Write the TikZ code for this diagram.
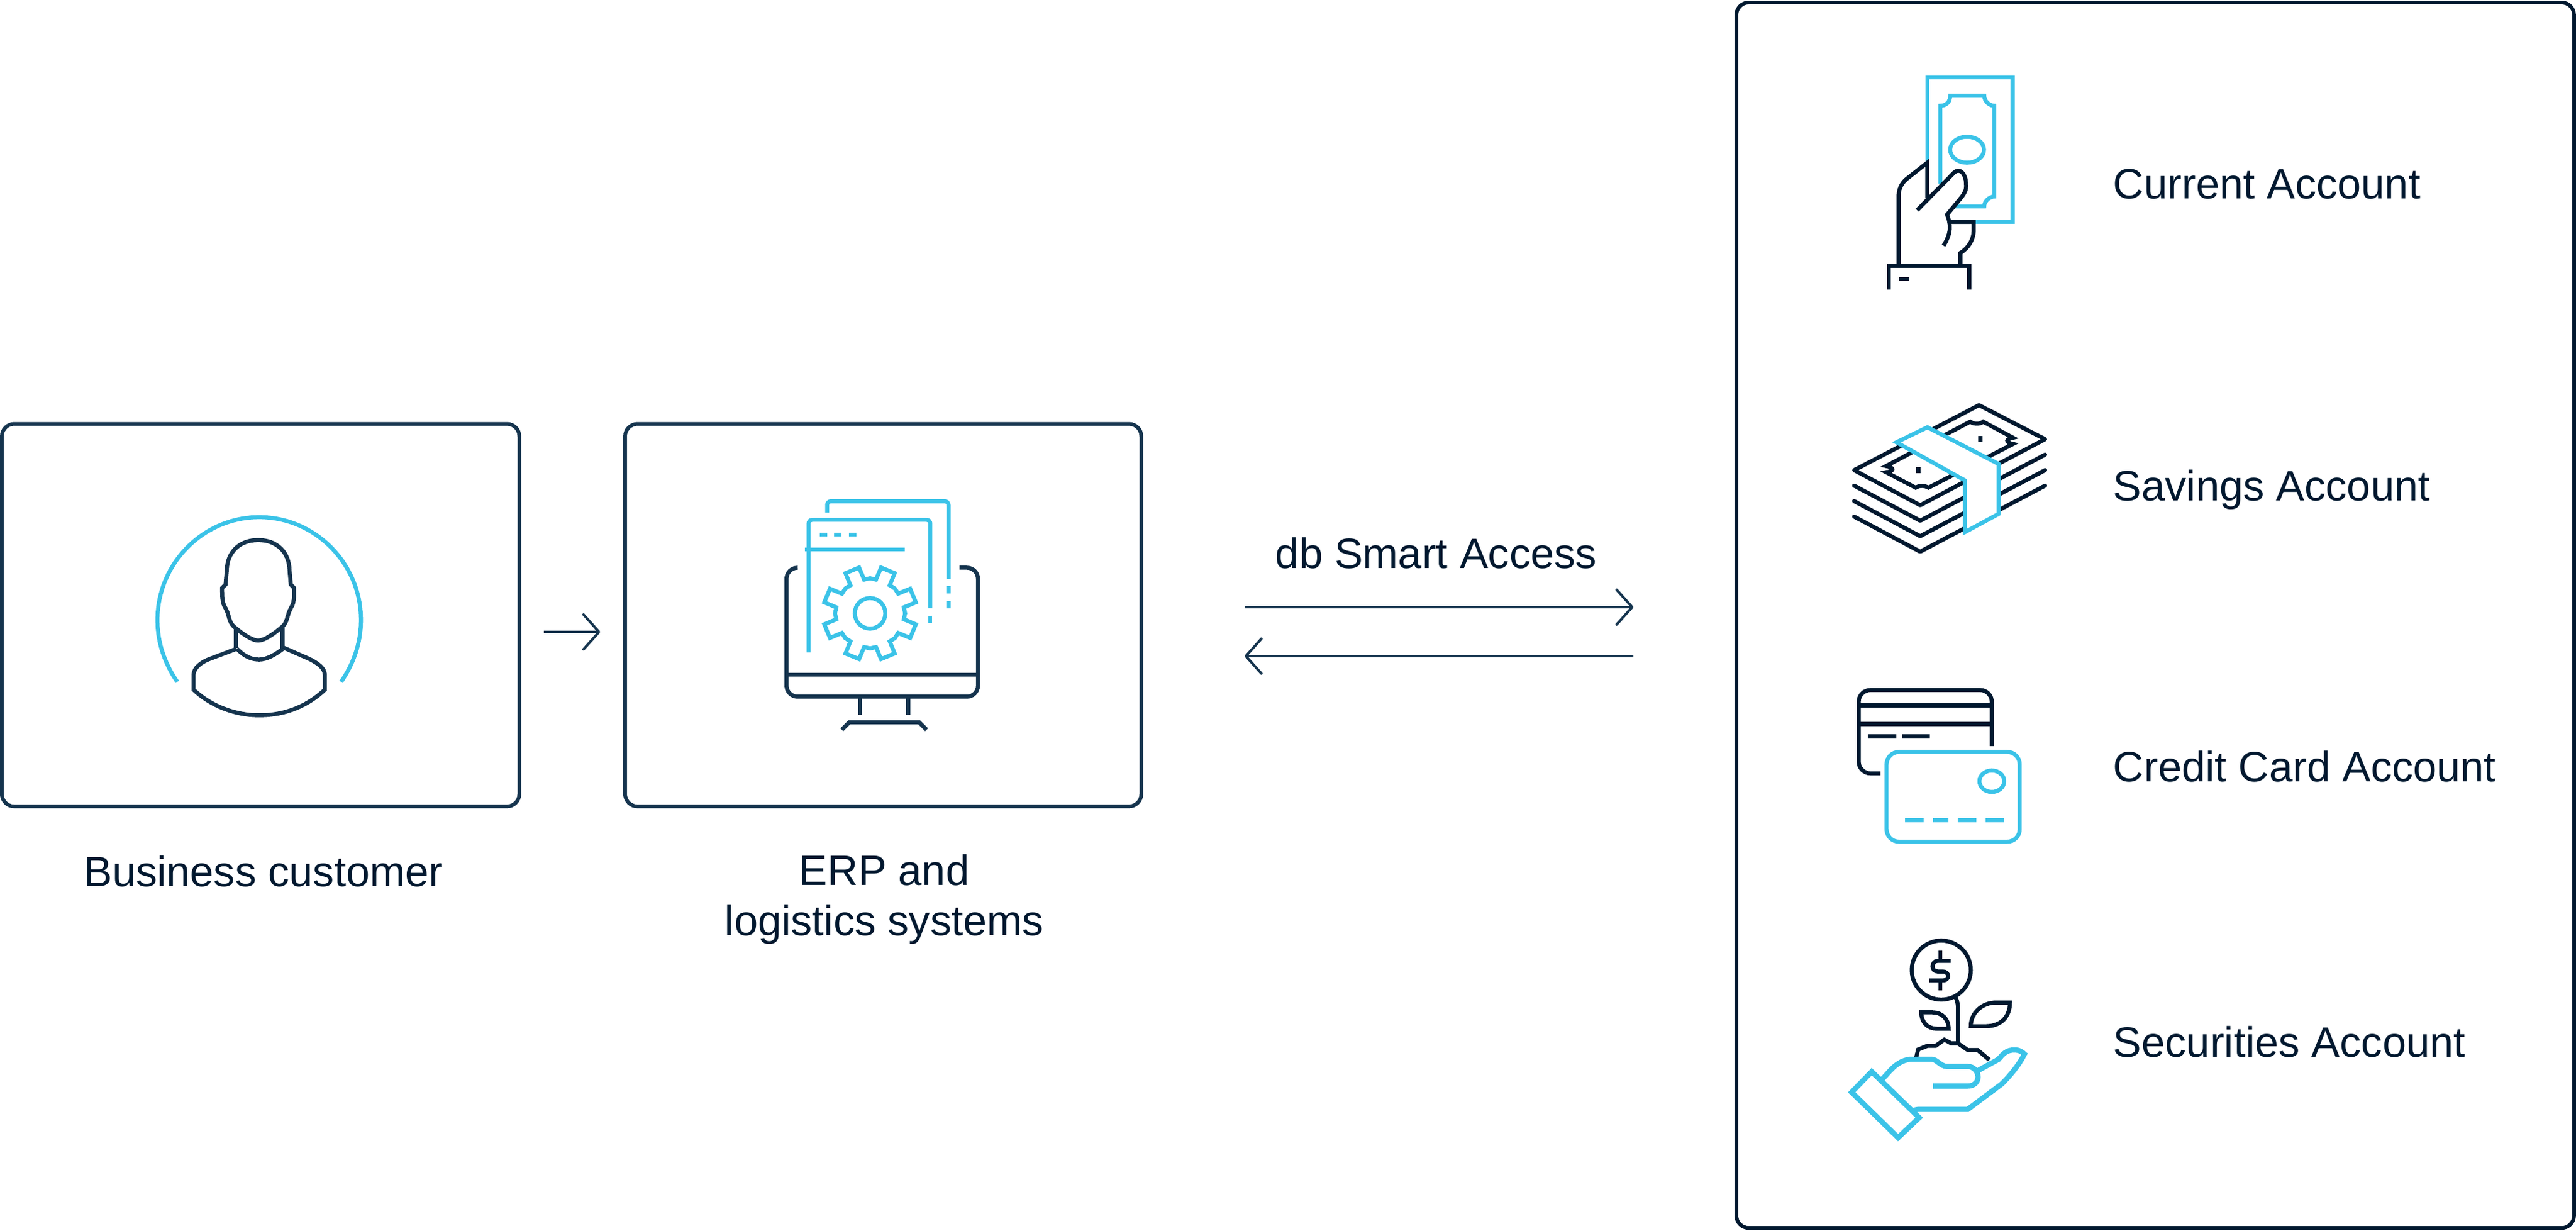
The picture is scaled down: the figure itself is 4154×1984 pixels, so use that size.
\documentclass[tikz,border=0pt]{standalone}
\usepackage{fontspec}
\setmainfont{Liberation Sans}
\usetikzlibrary{positioning,%
  arrows.meta,%
  calc
}
\definecolor{inkblue}{HTML}{15344E}
\definecolor{navy}{HTML}{01182F}
\definecolor{skyblue}{HTML}{3BC3E8}
\tikzset{
  panel/.style={draw=inkblue,line width=1.7pt,rounded corners=0.2cm,inner sep=0pt,outer sep=0pt,anchor=north west},
  caption/.style={text=navy,font=\fontsize{19.5}{23}\selectfont,align=center,inner sep=0pt},
  link/.style={draw=inkblue,line width=1.15pt,-{Straight Barb[length=0.25cm,width=0.56cm,round]}},
  zoomed/.style={x=0.0033333cm,y=-0.0033333cm,line width=1.85pt},
  darkline/.style={draw=inkblue},
  navyline/.style={draw=navy},
  skyline/.style={draw=skyblue}
}
\begin{document}
\begin{tikzpicture}[x=0.01cm,y=-0.01cm]
  \useasboundingbox (0,0) rectangle (4154,1984);

  % panels
  \node[panel,minimum width=8.34cm,minimum height=6.165cm] (customer) at (3,683.5) {};
  \node[panel,minimum width=8.32cm,minimum height=6.165cm] (erp) at (1008,683.5) {};
  \node[panel,draw=navy,minimum width=13.5cm,minimum height=19.75cm] (products) at (2800,4) {};

  % captions
  \node[caption] (customer text) at (425,1405) {Business customer};
  \node[caption] (erp text) at (1426,1450) {ERP and\\logistics systems};
  \node[caption] (access text) at (2316,892) {db Smart Access};
  \node[caption,anchor=west] (current text) at (3407,297) {Current Account};
  \node[caption,anchor=west] (savings text) at (3407,790) {Savings Account};
  \node[caption,anchor=west] (card text) at (3407,1236) {Credit Card Account};
  \node[caption,anchor=west] (securities text) at (3407,1680) {Securities Account};

  % arrows
  \coordinate (step from) at (877,1019);
  \coordinate (step to) at (968,1019);
  \coordinate (out from) at (2007,979);
  \coordinate (out to) at (2634,979);
  \coordinate (back from) at (2634,1058);
  \coordinate (back to) at (2007,1058);
  \draw[link] (step from) -- (step to);
  \draw[link] (out from) -- (out to);
  \draw[link] (back from) -- (back to);

  % person
  \begin{scope}[shift={(200,780)},zoomed]
    \draw[skyline] (258,960) .. controls (190,860) and (162,760) .. (162,660)
      .. controls (162,385) and (385,162) .. (655,162)
      .. controls (925,162) and (1148,385) .. (1148,660)
      .. controls (1148,760) and (1120,860) .. (1052,960);
    \draw[darkline] (650,760) .. controls (620,760) and (570,725) .. (530,690)
      .. controls (510,670) and (508,640) .. (500,620)
      .. controls (490,595) and (478,590) .. (476,545) -- (475,505) -- (492,488) -- (498,420)
      .. controls (500,330) and (560,273) .. (650,273)
      .. controls (740,273) and (800,330) .. (802,420) -- (808,488) -- (824,505) -- (824,545)
      .. controls (822,590) and (810,595) .. (800,620)
      .. controls (792,640) and (790,670) .. (770,690)
      .. controls (730,725) and (680,760) .. (650,760) -- cycle;
    \draw[darkline] (543,705) -- (543,795);
    \draw[darkline] (768,695) -- (768,800);
    \draw[darkline] (548,800) .. controls (590,845) and (630,852) .. (655,852)
      .. controls (690,852) and (730,830) .. (770,800);
    \draw[darkline] (545,800) -- (420,847) .. controls (370,865) and (337,895) .. (337,925) -- (337,998)
      .. controls (430,1085) and (550,1122) .. (655,1122)
      .. controls (770,1122) and (880,1085) .. (973,998) -- (973,925)
      .. controls (973,895) and (940,870) .. (900,850) -- (775,795);
  \end{scope}

  % monitor and gear
  \begin{scope}[shift={(1220,770)},zoomed]
    \draw[darkline,rounded corners=0.18cm] (199,437) -- (145,437) -- (145,1062) -- (1073,1062) -- (1073,437) -- (984,437);
    \draw[darkline] (145,955) -- (1073,955);
    \draw[darkline] (502,1062) -- (502,1152);
    \draw[darkline] (735,1062) -- (735,1152);
    \draw[darkline] (413,1222) -- (449,1186) -- (788,1186) -- (824,1222);
    \draw[skyline,rounded corners=0.06cm] (342,170) -- (342,115) -- (930,115) -- (930,492);
    \draw[skyline] (930,526) -- (930,562);
    \draw[skyline] (930,597) -- (930,633);
    \draw[skyline,rounded corners=0.06cm] (252,848) -- (252,205) -- (842,205) -- (842,633);
    \draw[skyline] (842,669) -- (842,705);
    \foreach \x in {305,377,449}
      \draw[skyline] (\x,276) -- (\x+36,276);
    \draw[skyline] (234,348) -- (717,348);
    \begin{scope}[shift={(550,658)}]
      \draw[skyline] (0,0) circle (74);
      \draw[skyline,line join=miter] (22.5-12.5:166)
        \foreach \a in {22.5,67.5,...,337.5} {
          -- (\a-12.5:166) -- (\a-9:228) -- (\a+9:228) -- (\a+12.5:166) -- (\a+22.5:170)
        } -- cycle;
    \end{scope}
  \end{scope}

  % note in hand
  \begin{scope}[shift={(2980,100)},zoomed]
    \draw[skyline] (384,480) -- (384,75) -- (797,75) -- (797,775) -- (610,775);
    \draw[skyline] (447,590) -- (447,212) .. controls (480,212) and (495,190) .. (495,163)
      -- (660,163) .. controls (660,190) and (685,212) .. (709,212) -- (709,652)
      .. controls (685,652) and (660,675) .. (660,700) -- (520,700);
    \draw[skyline] (577,425) ellipse (82 and 63);
    \draw[navyline] (245,985) -- (245,650) .. controls (245,610) and (265,580) .. (290,562) -- (384,488) -- (384,660);
    \draw[navyline] (335,718) -- (515,535) .. controls (535,515) and (570,530) .. (572,590)
      .. controls (575,620) and (565,635) .. (550,655) -- (480,740)
      .. controls (500,790) and (500,830) .. (463,890);
    \draw[navyline] (495,775) -- (609,775) -- (609,815) .. controls (609,860) and (585,900) .. (545,925) -- (545,985);
    \draw[navyline] (198,1102) -- (198,987) -- (588,987) -- (588,1102);
    \draw[navyline] (247,1052) -- (297,1052);
  \end{scope}

  % stack of notes
  \begin{scope}[shift={(2960,630)},zoomed]
    \draw[navyline,line join=round] (90,385) -- (695,70) -- (1015,235) -- (410,555) -- cycle;
    \foreach \y in {75,150,225}
      \draw[navyline,line join=round,line cap=round] (90,385+\y) -- (410,555+\y) -- (1015,235+\y);
    \draw[navyline] (245,365) -- (652,150) .. controls (670,163) and (700,163) .. (715,150) -- (860,228)
      .. controls (825,235) and (820,250) .. (860,258) -- (450,470)
      .. controls (430,458) and (405,458) .. (388,470) -- (245,395)
      .. controls (285,390) and (285,372) .. (245,365) -- cycle;
    \fill[navy] (690,220) rectangle (713,248);
    \fill[navy] (390,370) rectangle (413,400);
    \draw[skyline,fill=white] (445,177) -- (790,355) -- (790,597) -- (627,685) -- (627,435) -- (295,250) -- cycle;
  \end{scope}

  % cards
  \begin{scope}[shift={(2960,1090)},zoomed]
    \draw[navyline,rounded corners=0.19cm] (217,472) -- (112,472) -- (112,68) -- (757,68) -- (757,340);
    \draw[navyline] (112,143) -- (757,143);
    \draw[navyline] (112,233) -- (757,233);
    \draw[navyline] (157,293) -- (293,293);
    \draw[navyline] (322,293) -- (458,293);
    \draw[skyline,rounded corners=0.2cm] (247,368) rectangle (892,803);
    \draw[skyline] (757,510) ellipse (60 and 52);
    \draw[skyline] (337,698) -- (428,698);
    \draw[skyline] (472,698) -- (548,698);
    \draw[skyline] (592,698) -- (683,698);
    \draw[skyline] (727,698) -- (818,698);
  \end{scope}

  % plant on hand
  \begin{scope}[shift={(2960,1500)},zoomed]
    \draw[navyline] (512,193) circle (143);
    \draw[navyline] (558,148) -- (495,148) .. controls (480,148) and (470,160) .. (470,175)
      .. controls (470,190) and (480,200) .. (495,200) -- (520,200)
      .. controls (535,200) and (545,210) .. (545,222)
      .. controls (545,235) and (535,243) .. (520,243) -- (453,243);
    \draw[navyline] (507,98) -- (507,148);
    \draw[navyline] (507,243) -- (507,292);
    \draw[navyline] (575,312) .. controls (585,330) and (593,350) .. (593,375) -- (593,548);
    \draw[navyline] (655,465) .. controls (655,400) and (710,350) .. (780,350) -- (845,350)
      .. controls (845,420) and (800,465) .. (730,465) -- cycle;
    \draw[navyline] (415,398) -- (470,398) .. controls (515,398) and (548,430) .. (548,477) -- (490,477)
      .. controls (445,477) and (415,445) .. (415,398) -- cycle;
    \draw[navyline] (390,618) -- (400,578) -- (445,560) -- (485,560) -- (527,530) -- (560,548) -- (593,548)
      -- (640,580) -- (688,580) -- (745,628);
    \draw[skyline,line width=2.4pt] (175,685) -- (405,908) -- (303,1005) -- (78,785) -- cycle;
    \draw[skyline,line width=2.4pt] (225,722) .. controls (260,690) and (290,635) .. (360,625) -- (465,625)
      .. controls (490,625) and (510,660) .. (540,660) -- (640,660)
      .. controls (670,660) and (690,685) .. (690,712)
      .. controls (690,740) and (665,755) .. (640,755) -- (472,755);
    \draw[skyline,line width=2.4pt] (690,680) -- (790,625) .. controls (810,600) and (830,578) .. (870,580)
      .. controls (890,580) and (905,590) .. (915,600)
      .. controls (890,650) and (850,700) .. (805,745) -- (640,868) -- (400,868)
      .. controls (390,868) and (380,872) .. (370,878);
  \end{scope}
\end{tikzpicture}
\end{document}
